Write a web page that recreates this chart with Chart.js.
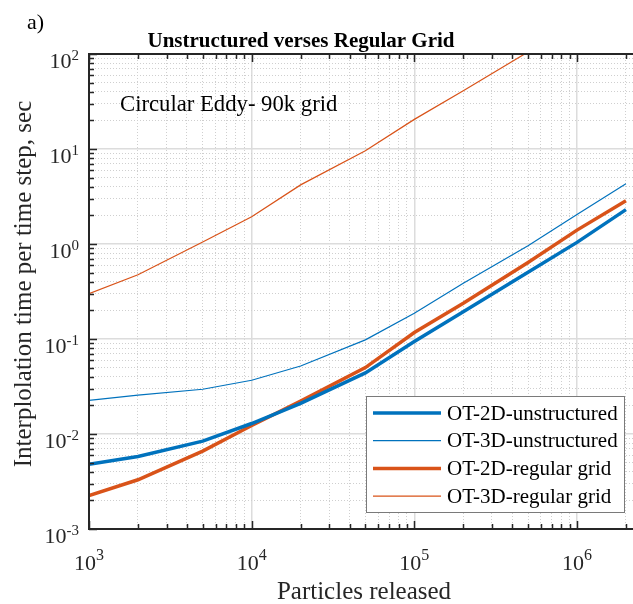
<!DOCTYPE html>
<html lang="en">
<head>
<meta charset="UTF-8">
<title>Unstructured verses Regular Grid</title>
<script src="https://cdn.jsdelivr.net/npm/chart.js"></script>
<style>
  body { margin: 0; background: #fff; }
  #wrap { width: 633px; height: 604px; }
</style>
</head>
<body>
<div id="wrap"><canvas id="myChart" width="633" height="604"></canvas></div>
<script>
// Particles released (x) vs interpolation time per time step in sec (y)
const particles = [1e3, 2e3, 5e3, 1e4, 2e4, 5e4, 1e5, 2e5, 5e5, 1e6, 2e6];
const ot2dUnstructured = [0.0048, 0.0058, 0.0084, 0.0129, 0.021, 0.044, 0.094, 0.194, 0.505, 1.04, 2.3];
const ot3dUnstructured = [0.0226, 0.0257, 0.0296, 0.0368, 0.052, 0.098, 0.187, 0.387, 0.96, 2.05, 4.3];
const ot2dRegular = [0.00225, 0.0033, 0.0066, 0.0123, 0.0222, 0.050, 0.117, 0.238, 0.64, 1.4, 2.85];
const ot3dRegular = [0.30, 0.475, 1.05, 1.94, 4.19, 9.6, 20.5, 41, 105];
const seriesNames = ['OT-2D-unstructured', 'OT-3D-unstructured', 'OT-2D-regular grid', 'OT-3D-regular grid'];
const xTickPowers = [3, 4, 5, 6];
const yTickPowers = [-3, -2, -1, 0, 1, 2];

const BLUE = '#0072BD';
const ORANGE = '#D95319';
const SERIF = '"Liberation Serif", "Times New Roman", serif';
const AXIS = '#262626';

function toPoints(ys) {
  return ys.map((y, i) => ({ x: particles[i], y: y }));
}

function isDecade(v) {
  const l = Math.log10(v);
  return Math.abs(l - Math.round(l)) < 1e-9;
}

// 1..9 x 10^n ticks (MATLAB style minor grid), no 1.5 steps
function logTicks(minExp, maxExp, max) {
  const out = [];
  for (let e = minExp; e <= maxExp; e++) {
    for (let m = 1; m <= 9; m++) {
      const v = Number((m * Math.pow(10, e)).toPrecision(6));
      if (v <= max * 1.0000001) out.push({ value: v });
    }
  }
  return out;
}

const X_MAX = 2.21e6;
const Y_MIN = 1e-3, Y_MAX = 1e2;

const gridOpts = {
  drawTicks: false,
  color: c => (c.tick && isDecade(c.tick.value)) ? '#dcdcdc' : '#cfcfcf',
  lineWidth: c => (c.tick && isDecade(c.tick.value)) ? 1.5 : 1
};
const borderOpts = {
  display: false,
  dash: c => (c.tick && isDecade(c.tick.value)) ? [] : [1, 2]
};

function drawPow(ctx, exp, x, y, align, size, supSize, lift) {
  const e = String(exp);
  ctx.font = size + 'px ' + SERIF;
  const baseW = ctx.measureText('10').width;
  ctx.font = supSize + 'px ' + SERIF;
  const expW = ctx.measureText(e).width;
  const total = baseW + expW;
  const left = align === 'right' ? x - total : x - total / 2;
  ctx.textAlign = 'left';
  ctx.textBaseline = 'alphabetic';
  ctx.font = size + 'px ' + SERIF;
  ctx.fillText('10', left, y);
  ctx.font = supSize + 'px ' + SERIF;
  ctx.fillText(e, left + baseW, y - lift);
}

// axes frame, inward ticks, labels, titles, legend
const decorations = {
  id: 'decorations',
  afterDraw(chart) {
    const { ctx, chartArea: a, scales: { x, y } } = chart;
    ctx.save();

    // inward tick marks
    ctx.strokeStyle = AXIS;
    ctx.lineWidth = 1.5;
    ctx.beginPath();
    x.ticks.forEach(t => {
      const px = Math.round(x.getPixelForValue(t.value)) + 0.5;
      const len = isDecade(t.value) ? 8 : 5;
      ctx.moveTo(px, a.bottom); ctx.lineTo(px, a.bottom - len);
      ctx.moveTo(px, a.top); ctx.lineTo(px, a.top + len);
    });
    y.ticks.forEach(t => {
      const py = Math.round(y.getPixelForValue(t.value)) + 0.5;
      const len = isDecade(t.value) ? 8 : 5;
      ctx.moveTo(a.left, py); ctx.lineTo(a.left + len, py);
    });
    ctx.stroke();

    // axis lines (left, bottom, top)
    ctx.lineWidth = 2;
    ctx.beginPath();
    ctx.moveTo(a.left, a.top); ctx.lineTo(a.left, a.bottom);
    ctx.moveTo(a.left - 1, a.bottom); ctx.lineTo(a.right, a.bottom);
    ctx.moveTo(a.left - 1, a.top); ctx.lineTo(a.right, a.top);
    ctx.stroke();

    // tick labels
    ctx.fillStyle = '#262626';
    xTickPowers.forEach(p => {
      drawPow(ctx, p, x.getPixelForValue(Math.pow(10, p)), 570, 'center', 22, 16, 10);
    });
    yTickPowers.forEach(p => {
      drawPow(ctx, p, 79, y.getPixelForValue(Math.pow(10, p)) + 14, 'right', 22, 15, 8);
    });

    // titles
    ctx.fillStyle = '#000';
    ctx.textBaseline = 'alphabetic';
    ctx.textAlign = 'center';
    ctx.font = 'bold 21px ' + SERIF;
    ctx.fillText('Unstructured verses Regular Grid', 301, 47);
    ctx.fillStyle = '#262626';
    ctx.font = '25px ' + SERIF;
    ctx.fillText('Particles released', 364, 599);
    ctx.save();
    ctx.translate(31, 284);
    ctx.rotate(-Math.PI / 2);
    ctx.fillText('Interplolation time per time step, sec', 0, 0);
    ctx.restore();

    ctx.textAlign = 'left';
    ctx.fillStyle = '#000';
    ctx.font = '22px ' + SERIF;
    ctx.fillText('a)', 27, 29);
    ctx.font = '22.7px ' + SERIF;
    ctx.fillText('Circular Eddy- 90k grid', 120, 111);

    // legend box
    const lx = 366, ly = 396, lw = 258, lh = 116;
    ctx.fillStyle = '#fff';
    ctx.fillRect(lx, ly, lw, lh);
    ctx.strokeStyle = '#7a7a7a';
    ctx.lineWidth = 1;
    ctx.strokeRect(lx + 0.5, ly + 0.5, lw, lh);
    ctx.font = '21px ' + SERIF;
    ctx.textBaseline = 'middle';
    chart.data.datasets.forEach((ds, i) => {
      const ry = 413 + i * 27.7;
      ctx.strokeStyle = ds.borderColor;
      ctx.lineWidth = ds.borderWidth;
      ctx.beginPath();
      ctx.moveTo(373, ry); ctx.lineTo(441, ry);
      ctx.stroke();
      ctx.fillStyle = '#000';
      ctx.fillText(ds.label, 447, ry + 1);
    });
    ctx.restore();
  }
};

const ctx = document.getElementById('myChart').getContext('2d');
const myChart = new Chart(ctx, {
  type: 'line',
  data: {
    datasets: [
      { label: seriesNames[0], data: toPoints(ot2dUnstructured), borderColor: BLUE, borderWidth: 3.5 },
      { label: seriesNames[1], data: toPoints(ot3dUnstructured), borderColor: BLUE, borderWidth: 1.2 },
      { label: seriesNames[2], data: toPoints(ot2dRegular), borderColor: ORANGE, borderWidth: 3.5 },
      { label: seriesNames[3], data: toPoints(ot3dRegular), borderColor: ORANGE, borderWidth: 1.2 }
    ]
  },
  options: {
    responsive: false,
    animation: false,
    layout: { padding: { left: 89, top: 54, right: 0, bottom: 75 } },
    elements: { point: { radius: 0 }, line: { tension: 0, fill: false } },
    plugins: { legend: { display: false }, tooltip: { enabled: false }, title: { display: false } },
    scales: {
      x: {
        type: 'logarithmic',
        min: 1e3,
        max: X_MAX,
        ticks: { display: false },
        grid: gridOpts,
        border: borderOpts,
        afterBuildTicks: s => { s.ticks = logTicks(3, 6, X_MAX); },
        afterFit: s => { s.height = 0; }
      },
      y: {
        type: 'logarithmic',
        min: Y_MIN,
        max: Y_MAX,
        ticks: { display: false },
        grid: gridOpts,
        border: borderOpts,
        afterBuildTicks: s => { s.ticks = logTicks(-3, 2, Y_MAX); },
        afterFit: s => { s.width = 0; }
      }
    }
  },
  plugins: [decorations]
});
</script>
</body>
</html>
